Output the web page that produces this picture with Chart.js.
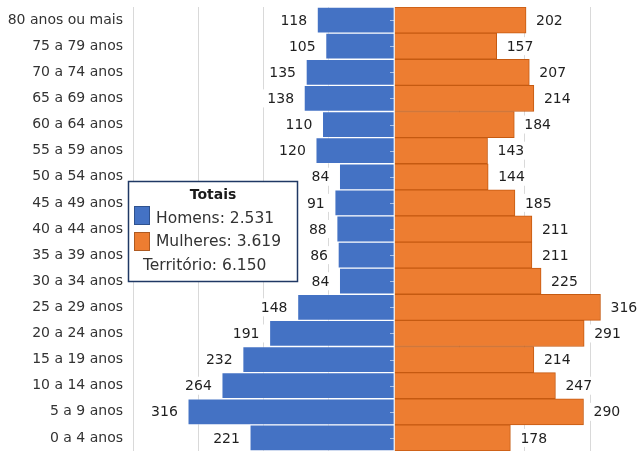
<!DOCTYPE html>
<html>
<head>
<meta charset="utf-8">
<script src="https://cdn.jsdelivr.net/npm/chart.js@4/dist/chart.umd.min.js"></script>
<style>
  html, body { margin: 0; padding: 0; background: #fff; overflow: hidden; }
  #wrap { position: relative; width: 639px; height: 451px; }
</style>
</head>
<body>
<div id="wrap"><canvas id="piramide" width="639" height="451"></canvas></div>
<script>
// Faixas etárias, de cima para baixo
const faixas = [
  '80 anos ou mais', '75 a 79 anos', '70 a 74 anos', '65 a 69 anos',
  '60 a 64 anos', '55 a 59 anos', '50 a 54 anos', '45 a 49 anos',
  '40 a 44 anos', '35 a 39 anos', '30 a 34 anos', '25 a 29 anos',
  '20 a 24 anos', '15 a 19 anos', '10 a 14 anos', '5 a 9 anos', '0 a 4 anos'
];
const homens   = [118, 105, 135, 138, 110, 120, 84, 91, 88, 86, 84, 148, 191, 232, 264, 316, 221];
const mulheres = [202, 157, 207, 214, 184, 143, 144, 185, 211, 211, 225, 316, 291, 214, 247, 290, 178];
// Linhas de grade verticais (população)
const gradeX = [-400, -300, -200, -100, 0, 100, 200, 300];

const FONTE = '"DejaVu Sans", Verdana, sans-serif';
const soma = arr => arr.reduce((a, b) => a + b, 0);
const milhar = n => String(n).replace(/\B(?=(\d{3})+(?!\d))/g, '.');

// Rótulos de valor com fundo branco e marcas do eixo central
const rotulos = {
  id: 'rotulos',
  afterDatasetsDraw(chart) {
    const ctx = chart.ctx;
    const x0 = chart.scales.x.getPixelForValue(0);
    ctx.save();
    // eixo central
    ctx.strokeStyle = 'rgba(255,255,255,0.55)';
    ctx.lineWidth = 1;
    ctx.beginPath();
    ctx.moveTo(Math.round(x0) + 0.5, chart.chartArea.top);
    ctx.lineTo(Math.round(x0) + 0.5, chart.chartArea.bottom);
    chart.getDatasetMeta(0).data.forEach(bar => {
      const y = Math.round(bar.y) + 0.5;
      ctx.moveTo(Math.round(x0) - 4, y);
      ctx.lineTo(Math.round(x0), y);
    });
    ctx.stroke();

    ctx.font = '14px ' + FONTE;
    ctx.textBaseline = 'middle';
    ctx.textAlign = 'left';
    [homens, mulheres].forEach((valores, di) => {
      chart.getDatasetMeta(di).data.forEach((bar, i) => {
        const txt = String(valores[i]);
        const w = ctx.measureText(txt).width;
        const tx = di === 0 ? bar.x - 10 - w : bar.x + 10;
        ctx.fillStyle = '#ffffff';
        ctx.fillRect(tx - 5, bar.y - 9, w + 10, 18);
        ctx.fillStyle = '#1f1f1f';
        ctx.fillText(txt, tx, bar.y + 1);
      });
    });
    ctx.restore();
  }
};

// Quadro de totais
const quadroTotais = {
  id: 'quadroTotais',
  afterDraw(chart) {
    const ctx = chart.ctx;
    ctx.save();
    ctx.fillStyle = '#ffffff';
    ctx.fillRect(128, 181, 169, 100);
    ctx.strokeStyle = '#1f3864';
    ctx.lineWidth = 1.5;
    ctx.strokeRect(128.5, 181.5, 169, 100);

    ctx.textBaseline = 'middle';
    ctx.fillStyle = '#1a1a1a';
    ctx.font = 'bold 14px ' + FONTE;
    ctx.textAlign = 'center';
    ctx.fillText('Totais', 213, 195);

    ctx.textAlign = 'left';
    ctx.font = '15.5px ' + FONTE;
    ctx.lineWidth = 1;
    ctx.fillStyle = '#4472c4';
    ctx.fillRect(134, 206, 15, 18);
    ctx.strokeStyle = '#2f528f';
    ctx.strokeRect(134.5, 206.5, 15, 18);
    ctx.fillStyle = '#ed7d31';
    ctx.fillRect(134, 232, 15, 18);
    ctx.strokeStyle = '#ae5a21';
    ctx.strokeRect(134.5, 232.5, 15, 18);

    ctx.fillStyle = '#333333';
    ctx.fillText('Homens: ' + milhar(soma(homens)), 156, 219);
    ctx.fillText('Mulheres: ' + milhar(soma(mulheres)), 156, 242);
    ctx.fillText('Território: ' + milhar(soma(homens) + soma(mulheres)), 143, 266);
    ctx.restore();
  }
};

new Chart(document.getElementById('piramide'), {
  type: 'bar',
  data: {
    labels: faixas,
    datasets: [
      {
        label: 'Homens',
        data: homens.map(v => -v),
        backgroundColor: '#4472c4',
        borderColor: 'rgba(255,255,255,0.35)',
        borderWidth: 1,
        barPercentage: 1,
        categoryPercentage: 1
      },
      {
        label: 'Mulheres',
        data: mulheres,
        backgroundColor: '#ed7d31',
        borderColor: '#c55a11',
        borderWidth: 1,
        barPercentage: 1,
        categoryPercentage: 1
      }
    ]
  },
  options: {
    indexAxis: 'y',
    responsive: false,
    animation: false,
    layout: { padding: { top: 7, right: 0, bottom: 0, left: 0 } },
    plugins: {
      legend: { display: false },
      tooltip: { enabled: false }
    },
    scales: {
      x: {
        type: 'linear',
        stacked: true,
        min: -400,
        max: 375,
        afterBuildTicks: s => { s.ticks = gradeX.map(v => ({ value: v })); },
        afterFit: s => { s.height = 0; s.paddingLeft = 0; s.paddingRight = 0; },
        ticks: { display: false },
        grid: { color: '#d9d9d9', lineWidth: 1, drawTicks: false },
        border: { display: false }
      },
      y: {
        stacked: true,
        afterFit: s => { s.width = 133; s.paddingTop = 0; s.paddingBottom = 0; },
        ticks: {
          color: '#333333',
          padding: 10,
          font: { family: FONTE, size: 14 }
        },
        grid: { display: false, drawTicks: false },
        border: { display: false }
      }
    }
  },
  plugins: [rotulos, quadroTotais]
});
</script>
</body>
</html>
